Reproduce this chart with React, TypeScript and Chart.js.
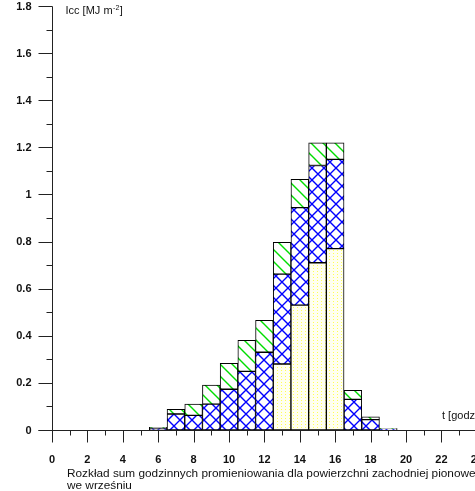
import React, { useEffect, useRef } from "react";
import { Chart, registerables } from "chart.js";

Chart.register(...registerables);

// Hours (bar centres)
const hours = [6, 7, 8, 9, 10, 11, 12, 13, 14, 15, 16, 17, 18, 19];
// Stacked components [MJ m-2]
const directValues = [null, null, null, null, null, null, null, 0.28, 0.53, 0.71, 0.77, null, null, null];
const diffuseValues = [0.008, 0.068, 0.062, 0.11, 0.173, 0.249, 0.33, 0.382, 0.414, 0.413, 0.379, 0.13, 0.044, 0.005];
const reflectedValues = [0.003, 0.02, 0.048, 0.081, 0.11, 0.132, 0.136, 0.135, 0.12, 0.096, 0.07, 0.038, 0.012, 0.001];

const xTickValues = [0, 2, 4, 6, 8, 10, 12, 14, 16, 18, 20, 22, 24];
const xTickLabels = ["0", "2", "4", "6", "8", "10", "12", "14", "16", "18", "20", "22", "24"];
const yTickValues = [0, 0.2, 0.4, 0.6, 0.8, 1, 1.2, 1.4, 1.6, 1.8];
const yTickLabels = ["0", "0.2", "0.4", "0.6", "0.8", "1", "1.2", "1.4", "1.6", "1.8"];

const yAxisTitle = "Icc [MJ m";
const yAxisTitleSup = "-2";
const xAxisTitle = "t [godz]";
const captionLines = [
  "Rozkład sum godzinnych promieniowania dla powierzchni zachodniej pionowej",
  "we wrześniu",
];

const FONT = '"Liberation Sans", Arial, sans-serif';
const CANVAS_W = 520;
const CANVAS_H = 491;

function makePattern(kind: string): CanvasPattern | string {
  const c = document.createElement("canvas");
  const ctx = c.getContext("2d");
  if (!ctx) return "#fff";
  if (kind === "cross") {
    const s = 12;
    c.width = s;
    c.height = s;
    ctx.fillStyle = "#ffffff";
    ctx.fillRect(0, 0, s, s);
    ctx.strokeStyle = "#0000ff";
    ctx.lineWidth = 1.4;
    ctx.beginPath();
    ctx.moveTo(-1, -1);
    ctx.lineTo(s + 1, s + 1);
    ctx.moveTo(s + 1, -1);
    ctx.lineTo(-1, s + 1);
    ctx.stroke();
  } else if (kind === "diag") {
    const s = 12;
    c.width = s;
    c.height = s;
    ctx.fillStyle = "#ffffff";
    ctx.fillRect(0, 0, s, s);
    ctx.strokeStyle = "#00dd00";
    ctx.lineWidth = 1.4;
    ctx.beginPath();
    ctx.moveTo(-2, -2);
    ctx.lineTo(s + 2, s + 2);
    ctx.moveTo(-2, s - 2);
    ctx.lineTo(2, s + 2);
    ctx.moveTo(s - 2, -2);
    ctx.lineTo(s + 2, 2);
    ctx.stroke();
  } else {
    c.width = 4;
    c.height = 3;
    ctx.fillStyle = "#fffff0";
    ctx.fillRect(0, 0, 4, 3);
    ctx.fillStyle = "#ffff55";
    ctx.fillRect(1, 1, 1, 1);
  }
  const p = ctx.createPattern(c, "repeat");
  return p || "#fff";
}

const axesPlugin = {
  id: "customAxes",
  afterDatasetsDraw(chart: any) {
    const ctx = chart.ctx as CanvasRenderingContext2D;
    const xs = chart.scales.x;
    const ys = chart.scales.y;
    const x0 = Math.round(xs.getPixelForValue(0)) + 0.5;
    const y0 = Math.round(ys.getPixelForValue(0)) + 0.5;
    const yTop = Math.round(ys.getPixelForValue(1.8)) + 0.5;
    const xEnd = xs.getPixelForValue(24);
    ctx.save();
    ctx.strokeStyle = "#222";
    ctx.lineWidth = 1;
    ctx.beginPath();
    // y axis
    ctx.moveTo(x0, yTop);
    ctx.lineTo(x0, y0 + 12);
    // x axis
    ctx.moveTo(x0 - 14, y0);
    ctx.lineTo(xEnd + 1, y0);
    // y ticks
    for (let i = 0; i <= 18; i++) {
      const y = Math.round(ys.getPixelForValue(i / 10)) + 0.5;
      const len = i % 2 === 0 ? 14 : 6;
      ctx.moveTo(x0 - len, y);
      ctx.lineTo(x0, y);
    }
    // x ticks
    for (let h = 1; h <= 24; h++) {
      const x = Math.round(xs.getPixelForValue(h)) + 0.5;
      const len = h % 2 === 0 ? 12 : 5;
      ctx.moveTo(x, y0);
      ctx.lineTo(x, y0 + len);
    }
    ctx.stroke();

    // tick labels
    ctx.fillStyle = "#111";
    ctx.font = "bold 11px " + FONT;
    ctx.textAlign = "right";
    ctx.textBaseline = "middle";
    yTickValues.forEach((v, i) => {
      ctx.fillText(yTickLabels[i], x0 - 21, ys.getPixelForValue(v) + 0.5);
    });
    ctx.textAlign = "center";
    xTickValues.forEach((v, i) => {
      ctx.fillText(xTickLabels[i], xs.getPixelForValue(v), y0 + 29);
    });

    // axis titles
    ctx.font = "11px " + FONT;
    ctx.textAlign = "left";
    ctx.textBaseline = "alphabetic";
    const tx = x0 + 13;
    const ty = yTop + 7.5;
    ctx.fillText(yAxisTitle, tx, ty);
    const w = ctx.measureText(yAxisTitle).width;
    ctx.font = "7px " + FONT;
    ctx.fillText(yAxisTitleSup, tx + w + 0.5, ty - 4);
    const ws = ctx.measureText(yAxisTitleSup).width;
    ctx.font = "11px " + FONT;
    ctx.fillText("]", tx + w + ws + 1, ty);

    ctx.fillText(xAxisTitle, 442, y0 - 12);

    ctx.font = "11.8px " + FONT;
    captionLines.forEach((line, i) => {
      ctx.fillText(line, 67, y0 + 46 + i * 12.5);
    });
    ctx.restore();
  },
};

export default function App() {
  const ref = useRef<HTMLCanvasElement | null>(null);
  useEffect(() => {
    if (!ref.current) return;
    const toPts = (arr: (number | null)[]) => hours.map((h, i) => ({ x: h, y: arr[i] }));
    const common = {
      borderColor: "#000",
      borderWidth: 1,
      borderSkipped: false,
      categoryPercentage: 1,
      barPercentage: 1,
    };
    const chart = new Chart(ref.current, {
      type: "bar",
      data: {
        datasets: [
          { label: "direct", data: toPts(directValues), backgroundColor: makePattern("dots"), ...common } as any,
          { label: "diffuse", data: toPts(diffuseValues), backgroundColor: makePattern("cross"), ...common } as any,
          { label: "reflected", data: toPts(reflectedValues), backgroundColor: makePattern("diag"), ...common } as any,
        ],
      },
      options: {
        responsive: false,
        animation: false,
        layout: {
          padding: { left: 52, top: 6, bottom: 61, right: CANVAS_W - 476.8 },
        },
        plugins: { legend: { display: false }, tooltip: { enabled: false }, title: { display: false } },
        scales: {
          x: { type: "linear", min: 0, max: 24, stacked: true, display: false, offset: false },
          y: { type: "linear", min: 0, max: 1.8, stacked: true, display: false },
        },
      } as any,
      plugins: [axesPlugin],
    });
    return () => chart.destroy();
  }, []);
  return (
    <div
      style={{
        position: "fixed",
        left: 0,
        top: 0,
        width: 475,
        height: 491,
        overflow: "hidden",
        background: "#fff",
      }}
    >
      <canvas ref={ref} width={CANVAS_W} height={CANVAS_H} style={{ width: CANVAS_W, height: CANVAS_H, display: "block" }} />
    </div>
  );
}
